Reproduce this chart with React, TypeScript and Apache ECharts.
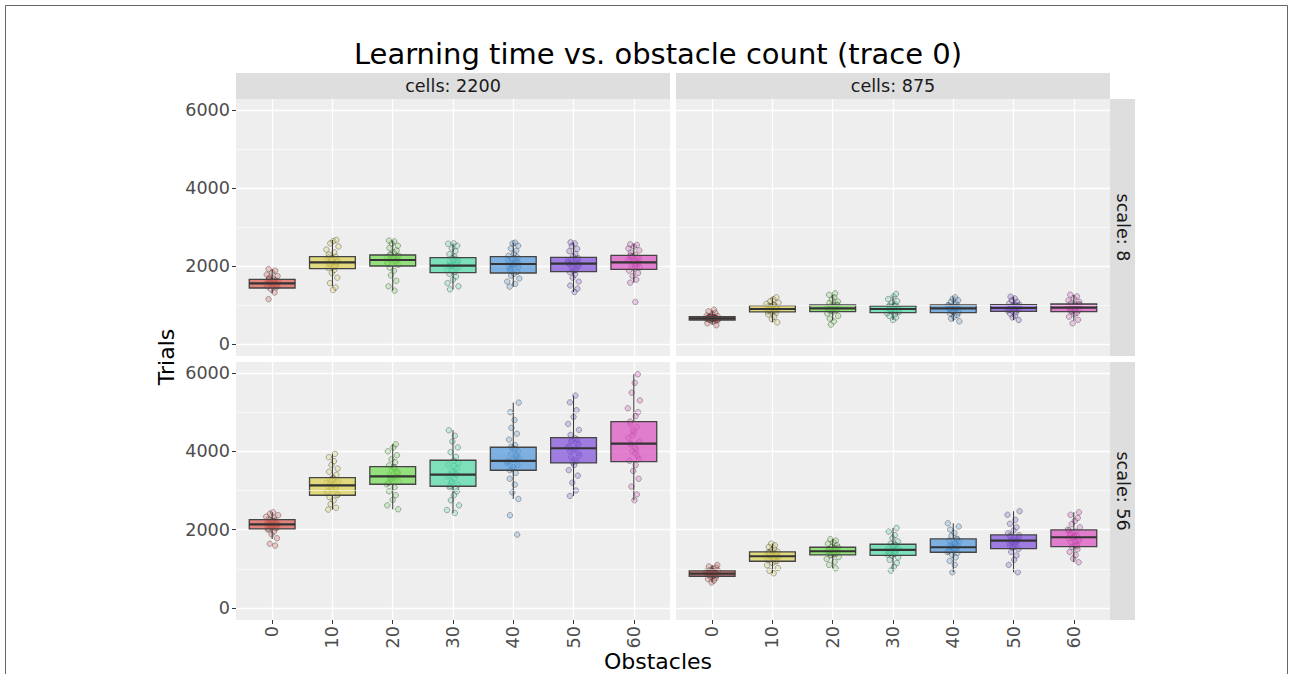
import React, { useEffect, useRef } from 'react';
import * as echarts from 'echarts';

const CATEGORIES = ['0', '10', '20', '30', '40', '50', '60'];
const Y_TICKS = [0, 2000, 4000, 6000];
const Y_MINOR = [1000, 3000, 5000];
const CELLS = ['cells: 2200', 'cells: 875'];
const SCALES = ['scale: 8', 'scale: 56'];
const PALETTE = ['#db5f57', '#dbd057', '#75db57', '#57dbaa', '#579bdb', '#8457db', '#db57c1'];

// box stats: [lower whisker, Q1, median, Q3, upper whisker]
const BOX_S8_C2200 = [
  [1300, 1436, 1556, 1659, 1920],
  [1480, 1931, 2094, 2239, 2667],
  [1368, 2000, 2154, 2282, 2650],
  [1402, 1829, 2009, 2214, 2581],
  [1470, 1820, 2051, 2239, 2598],
  [1333, 1855, 2060, 2222, 2607],
  [1573, 1914, 2094, 2273, 2556],
];
const BOX_S8_C875 = [
  [500, 615, 658, 700, 860],
  [556, 821, 897, 983, 1197],
  [600, 829, 915, 1000, 1260],
  [615, 803, 897, 974, 1240],
  [581, 803, 915, 1000, 1197],
  [615, 838, 923, 1009, 1214],
  [600, 829, 932, 1026, 1265],
];
const BOX_S56_C2200 = [
  [1760, 2018, 2137, 2256, 2444],
  [2512, 2878, 3133, 3329, 3934],
  [2520, 3159, 3363, 3610, 4181],
  [2426, 3108, 3406, 3772, 4538],
  [2784, 3517, 3755, 4104, 5245],
  [2861, 3704, 4079, 4350, 5424],
  [2751, 3737, 4197, 4759, 5969],
];
const BOX_S56_C875 = [
  [650, 809, 877, 945, 1098],
  [886, 1192, 1320, 1430, 1643],
  [1014, 1354, 1448, 1550, 1755],
  [953, 1345, 1481, 1627, 2043],
  [911, 1422, 1550, 1762, 2163],
  [911, 1516, 1719, 1865, 2470],
  [1167, 1566, 1806, 1992, 2444],
];

// individual trials (jittered points)
const PTS_S8_C2200 = [
  [1150, 1320, 1400, 1450, 1480, 1510, 1530, 1550, 1560, 1575, 1590, 1610, 1630, 1650, 1670, 1700, 1740, 1780, 1830, 1880, 1920, 1520, 1540, 1600, 1580, 1620, 1500, 1660, 1490, 1570],
  [1385, 1450, 1560, 1700, 1820, 1900, 1950, 2000, 2040, 2080, 2100, 2130, 2160, 2200, 2240, 2290, 2350, 2420, 2500, 2580, 2640, 2667, 2060, 2110, 2180, 1980, 2220, 2020, 2150, 2090],
  [1368, 1480, 1620, 1760, 1880, 1960, 2030, 2080, 2120, 2150, 2170, 2200, 2230, 2260, 2300, 2350, 2400, 2460, 2520, 2580, 2630, 2650, 2140, 2190, 2250, 2060, 2210, 2100, 2280, 2160],
  [1402, 1480, 1560, 1650, 1730, 1800, 1850, 1900, 1960, 2000, 2020, 2060, 2100, 2150, 2200, 2240, 2300, 2380, 2450, 2520, 2570, 2581, 1940, 2040, 2120, 1880, 2180, 1990, 2080, 2010],
  [1470, 1540, 1600, 1680, 1750, 1800, 1850, 1920, 1980, 2030, 2060, 2090, 2130, 2180, 2220, 2260, 2320, 2390, 2450, 2520, 2580, 2598, 2000, 2110, 1950, 2200, 1880, 2070, 2150, 2040],
  [1333, 1420, 1500, 1600, 1700, 1780, 1840, 1900, 1960, 2020, 2060, 2090, 2120, 2160, 2200, 2250, 2310, 2380, 2440, 2510, 2580, 2607, 2000, 2140, 1880, 2180, 2040, 1930, 2100, 2070],
  [1077, 1573, 1650, 1740, 1820, 1880, 1930, 1980, 2030, 2080, 2100, 2130, 2170, 2210, 2250, 2290, 2340, 2400, 2450, 2500, 2540, 2556, 2060, 2150, 1960, 2230, 2010, 2120, 2270, 2190],
];
const PTS_S8_C875 = [
  [480, 530, 570, 600, 620, 635, 645, 655, 660, 670, 680, 690, 700, 715, 730, 760, 800, 840, 880, 650, 625, 690, 640, 665, 675, 610, 705, 685, 630, 660],
  [556, 640, 700, 760, 800, 830, 860, 880, 900, 920, 940, 960, 980, 1000, 1030, 1060, 1100, 1150, 1197, 870, 910, 950, 890, 930, 850, 970, 900, 840, 990, 915],
  [496, 580, 650, 720, 780, 830, 860, 890, 910, 930, 950, 970, 990, 1010, 1050, 1090, 1140, 1200, 1260, 1299, 920, 880, 900, 940, 960, 850, 1000, 870, 930, 910],
  [615, 680, 720, 760, 790, 820, 850, 870, 890, 905, 920, 940, 960, 985, 1010, 1050, 1100, 1150, 1220, 1282, 880, 930, 900, 860, 950, 840, 910, 970, 895, 875],
  [581, 650, 700, 740, 780, 810, 840, 870, 900, 920, 940, 960, 985, 1010, 1040, 1080, 1120, 1160, 1197, 890, 930, 860, 910, 950, 880, 990, 830, 925, 905, 945],
  [615, 680, 730, 780, 820, 850, 870, 890, 910, 930, 950, 970, 990, 1010, 1040, 1080, 1120, 1170, 1214, 900, 940, 960, 920, 880, 980, 860, 1000, 935, 905, 955],
  [530, 620, 700, 760, 800, 840, 870, 900, 920, 940, 960, 990, 1010, 1040, 1080, 1120, 1170, 1220, 1265, 910, 950, 1000, 930, 890, 970, 860, 1020, 945, 985, 905],
];
const PTS_S56_C2200 = [
  [1592, 1640, 1780, 1880, 1950, 2000, 2040, 2080, 2110, 2130, 2150, 2170, 2200, 2230, 2260, 2290, 2330, 2370, 2410, 2444, 2100, 2180, 2060, 2140, 2220, 2020, 2120, 2240, 2160, 2090],
  [2512, 2560, 2650, 2750, 2830, 2900, 2960, 3020, 3080, 3120, 3150, 3190, 3230, 3280, 3330, 3400, 3480, 3560, 3650, 3750, 3850, 3934, 3100, 3200, 2980, 3300, 3050, 3170, 2880, 3250],
  [2520, 2620, 2760, 2880, 2980, 3080, 3160, 3220, 3280, 3330, 3370, 3410, 3460, 3520, 3580, 3640, 3720, 3800, 3900, 4000, 4100, 4181, 3350, 3430, 3250, 3550, 3190, 3480, 3300, 3600],
  [2426, 2500, 2620, 2750, 2880, 2980, 3080, 3150, 3230, 3300, 3380, 3430, 3500, 3580, 3660, 3760, 3860, 3980, 4100, 4250, 4400, 4538, 3400, 3200, 3620, 3120, 3700, 3350, 3460, 3050],
  [1872, 2367, 2784, 2950, 3150, 3300, 3450, 3550, 3650, 3720, 3780, 3840, 3920, 4000, 4080, 4160, 4300, 4450, 4600, 4800, 5000, 5245, 3760, 3600, 3900, 3520, 4050, 3700, 3820, 4120],
  [2861, 3000, 3200, 3380, 3520, 3650, 3750, 3850, 3950, 4030, 4080, 4130, 4200, 4280, 4340, 4420, 4550, 4700, 4880, 5050, 5250, 5424, 4100, 3900, 4250, 3780, 4300, 4000, 4180, 3720],
  [2751, 2900, 3100, 3300, 3500, 3650, 3760, 3880, 4000, 4100, 4180, 4250, 4350, 4480, 4620, 4760, 4900, 5100, 5300, 5500, 5750, 5969, 4200, 3800, 4550, 3950, 4700, 4050, 4400, 5000],
];
const PTS_S56_C875 = [
  [650, 700, 740, 770, 800, 820, 840, 855, 870, 880, 890, 900, 915, 930, 950, 970, 1000, 1030, 1060, 1098, 860, 910, 875, 850, 925, 830, 895, 940, 865, 885],
  [886, 950, 1020, 1090, 1150, 1190, 1230, 1260, 1290, 1310, 1330, 1350, 1380, 1410, 1440, 1480, 1520, 1560, 1600, 1643, 1300, 1360, 1250, 1320, 1400, 1210, 1340, 1280, 1420, 1370],
  [1014, 1100, 1180, 1250, 1300, 1340, 1370, 1400, 1420, 1440, 1460, 1480, 1500, 1530, 1560, 1600, 1640, 1680, 1720, 1755, 1450, 1410, 1390, 1470, 1510, 1360, 1430, 1490, 1540, 1455],
  [953, 1050, 1150, 1230, 1290, 1340, 1380, 1410, 1440, 1470, 1490, 1520, 1560, 1600, 1640, 1700, 1780, 1860, 1950, 2043, 1480, 1450, 1400, 1530, 1360, 1580, 1500, 1420, 1620, 1460],
  [911, 1100, 1200, 1290, 1360, 1410, 1450, 1490, 1520, 1550, 1580, 1620, 1670, 1720, 1770, 1840, 1920, 2000, 2080, 2163, 1540, 1600, 1480, 1650, 1430, 1700, 1560, 1510, 1750, 1590],
  [911, 1100, 1230, 1340, 1430, 1500, 1560, 1610, 1660, 1700, 1730, 1770, 1820, 1860, 1910, 1980, 2060, 2150, 2250, 2380, 2470, 1690, 1640, 1750, 1580, 1800, 1540, 1720, 1850, 1680],
  [1167, 1260, 1350, 1430, 1500, 1560, 1610, 1660, 1720, 1780, 1810, 1850, 1900, 1950, 2000, 2060, 2140, 2220, 2300, 2380, 2444, 1790, 1700, 1880, 1620, 1930, 1750, 1980, 1830, 1580],
];
const JITTER = [-0.06, 0.04, -0.02, 0.07, -0.08, 0.01, 0.05, -0.04, 0.08, -0.01, 0.03, -0.07, 0.06, -0.03, 0.02, -0.05, 0.09, -0.09, 0.0, 0.05, -0.06, 0.03, -0.1, 0.1, -0.035, 0.015, 0.065, -0.055, 0.085, -0.015, 0.025];

const PANEL_BOXES = [BOX_S8_C2200, BOX_S8_C875, BOX_S56_C2200, BOX_S56_C875];
const PANEL_POINTS = [PTS_S8_C2200, PTS_S8_C875, PTS_S56_C2200, PTS_S56_C875];

const FONT = '"DejaVu Sans", sans-serif';
const GRIDS = [
  { left: 236, top: 99, width: 434, height: 257 },
  { left: 676, top: 99, width: 434, height: 257 },
  { left: 236, top: 362, width: 434, height: 258 },
  { left: 676, top: 362, width: 434, height: 258 },
];

function rgba(hex: string, a: number) {
  const n = parseInt(hex.slice(1), 16);
  return `rgba(${(n >> 16) & 255},${(n >> 8) & 255},${n & 255},${a})`;
}

export default function App() {
  const ref = useRef<HTMLDivElement>(null);
  useEffect(() => {
    if (!ref.current) return;
    const chart = echarts.init(ref.current, undefined, { renderer: 'svg' });
    const xIdx = CATEGORIES.map((_, i) => i);

    const xAxes = GRIDS.map((_, g) => {
      const bottom = g >= 2;
      return {
        type: 'value', gridIndex: g, min: -0.6, max: 6.6, position: 'bottom',
        axisLine: { show: false, onZero: false },
        axisTick: { show: bottom, customValues: xIdx, length: 4, lineStyle: { color: '#333', width: 1 } },
        axisLabel: {
          show: bottom, customValues: xIdx, rotate: 90, margin: 6,
          formatter: (v: number) => CATEGORIES[Math.round(v)],
          fontSize: 17.6, color: '#4d4d4d', fontFamily: FONT,
        },
        splitLine: { show: true, lineStyle: { color: '#ffffff', width: 1.3 } },
      };
    });
    const yAxes = GRIDS.map((_, g) => {
      const left = g % 2 === 0;
      return {
        type: 'value', gridIndex: g, min: -308, max: 6282, position: 'left',
        axisLine: { show: false, onZero: false },
        axisTick: { show: left, customValues: Y_TICKS, length: 4, lineStyle: { color: '#333', width: 1 } },
        axisLabel: {
          show: left, customValues: Y_TICKS, margin: 6,
          formatter: (v: number) => String(v),
          fontSize: 17.6, color: '#4d4d4d', fontFamily: FONT,
        },
        splitLine: { show: true, lineStyle: { color: '#ffffff', width: 1.3 } },
      };
    });

    const series: any[] = [];
    GRIDS.forEach((_, g) => {
      series.push({
        type: 'line', xAxisIndex: g, yAxisIndex: g, data: [], z: 1, silent: true,
        markLine: {
          silent: true, symbol: 'none', label: { show: false },
          lineStyle: { color: '#ffffff', width: 0.6, type: 'solid' },
          data: Y_MINOR.map((v) => ({ yAxis: v })),
        },
      });
      const pts: number[][] = [];
      PANEL_POINTS[g].forEach((arr, i) => {
        arr.forEach((v, j) => {
          pts.push([i + JITTER[(j + i * 5 + g * 3) % JITTER.length], v, i]);
        });
      });
      series.push({
        type: 'scatter', xAxisIndex: g, yAxisIndex: g, z: 2, silent: true,
        symbol: 'circle', symbolSize: 5.5,
        data: pts,
        itemStyle: {
          color: (p: any) => rgba(PALETTE[p.value[2]], 0.35),
          borderColor: 'rgba(0,0,0,0.45)', borderWidth: 0.8,
        },
      });
      series.push({
        type: 'custom', xAxisIndex: g, yAxisIndex: g, z: 3, silent: true,
        data: PANEL_BOXES[g].map((b, i) => [i, ...b]),
        encode: { x: 0, y: [1, 2, 3, 4, 5] },
        renderItem: (params: any, api: any) => {
          const x = api.value(0);
          const lo = api.coord([x, api.value(1)]);
          const q1 = api.coord([x, api.value(2)]);
          const md = api.coord([x, api.value(3)]);
          const q3 = api.coord([x, api.value(4)]);
          const hi = api.coord([x, api.value(5)]);
          const w = api.size([0.76, 0])[0];
          const color = PALETTE[params.dataIndex];
          return {
            type: 'group',
            children: [
              { type: 'line', shape: { x1: lo[0], y1: lo[1], x2: q1[0], y2: q1[1] }, style: { stroke: '#333', lineWidth: 1 } },
              { type: 'line', shape: { x1: q3[0], y1: q3[1], x2: hi[0], y2: hi[1] }, style: { stroke: '#333', lineWidth: 1 } },
              { type: 'rect', shape: { x: q3[0] - w / 2, y: q3[1], width: w, height: q1[1] - q3[1] }, style: { fill: rgba(color, 0.75), stroke: '#444', lineWidth: 1.3 } },
              { type: 'line', shape: { x1: md[0] - w / 2, y1: md[1], x2: md[0] + w / 2, y2: md[1] }, style: { stroke: '#333', lineWidth: 2.2 } },
            ],
          };
        },
      });
    });

    const textStyle = (text: string, size: number, color: string) => ({
      text, x: 0, y: 0, fill: color, font: `${size}px ${FONT}`, align: 'center', verticalAlign: 'middle',
    });

    const graphic: any[] = [
      { type: 'rect', shape: { x: 5.5, y: 5.5, width: 1282, height: 720 }, style: { fill: 'none', stroke: '#666', lineWidth: 1 }, silent: true },
      { type: 'text', x: 658, y: 54, style: textStyle('Learning time vs. obstacle count (trace 0)', 29, '#000') },
      { type: 'text', x: 658, y: 661, style: textStyle('Obstacles', 22, '#000') },
      { type: 'text', x: 166, y: 357, rotation: Math.PI / 2, style: textStyle('Trials', 22, '#000') },
    ];
    [0, 1].forEach((c) => {
      const gr = GRIDS[c];
      graphic.push({ type: 'rect', shape: { x: gr.left, y: 73, width: gr.width, height: 26 }, style: { fill: '#dedede' }, silent: true });
      graphic.push({ type: 'text', x: gr.left + gr.width / 2, y: 86, style: textStyle(CELLS[c], 17.6, '#1a1a1a') });
    });
    [0, 1].forEach((r) => {
      const gr = GRIDS[r * 2 + 1];
      graphic.push({ type: 'rect', shape: { x: 1110, y: gr.top, width: 25, height: gr.height }, style: { fill: '#dedede' }, silent: true });
      graphic.push({ type: 'text', x: 1123, y: gr.top + gr.height / 2, rotation: -Math.PI / 2, style: textStyle(SCALES[r], 17.6, '#1a1a1a') });
    });

    chart.setOption({
      animation: false,
      backgroundColor: '#ffffff',
      grid: GRIDS.map((gr) => ({ ...gr, show: true, backgroundColor: '#eeeeee', borderWidth: 0, containLabel: false })),
      xAxis: xAxes,
      yAxis: yAxes,
      series,
      graphic,
    });
    return () => chart.dispose();
  }, []);
  return <div ref={ref} style={{ position: 'fixed', left: 0, top: 0, width: 1290, height: 674 }} />;
}
